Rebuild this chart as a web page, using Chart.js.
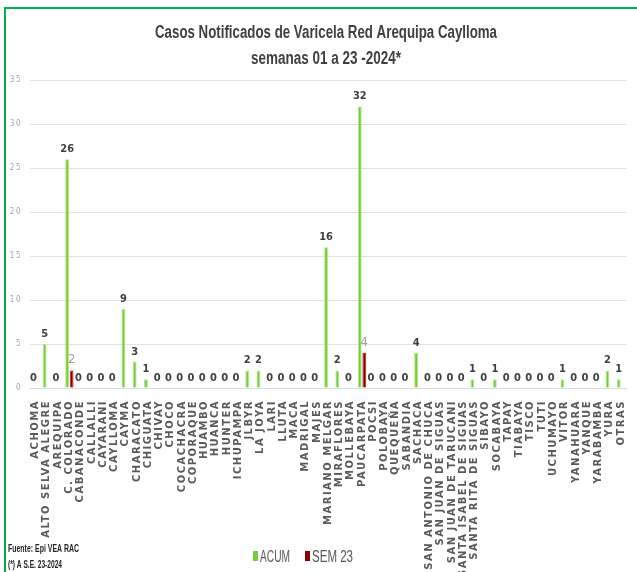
<!DOCTYPE html>
<html>
<head>
<meta charset="utf-8">
<title>Casos Notificados de Varicela</title>
<script src="https://cdn.jsdelivr.net/npm/chart.js@4/dist/chart.umd.min.js"></script>
<style>
  body { margin: 0; background: #fff; }
  #wrap { position: relative; width: 637px; height: 572px; }
</style>
</head>
<body>
<div id="wrap"><canvas id="myChart" width="637" height="572"></canvas></div>
<script>
// districts of Red Arequipa Caylloma
var distritos = ['ACHOMA', 'ALTO SELVA ALEGRE', 'AREQUIPA', 'C. COLORADO', 'CABANACONDE', 'CALLALLI',
  'CAYARANI', 'CAYLLOMA', 'CAYMA', 'CHARACATO', 'CHIGUATA', 'CHIVAY', 'CHOCO', 'COCACHACRA',
  'COPORAQUE', 'HUAMBO', 'HUANCA', 'HUNTER', 'ICHUPAMPA', 'JLBYR', 'LA JOYA', 'LARI', 'LLUTA',
  'MACA', 'MADRIGAL', 'MAJES', 'MARIANO MELGAR', 'MIRAFLORES', 'MOLLEBAYA', 'PAUCARPATA', 'POCSI',
  'POLOBAYA', 'QUEQUEÑA', 'SABANDIA', 'SACHACA', 'SAN ANTONIO DE CHUCA', 'SAN JUAN DE SIGUAS',
  'SAN JUAN DE TARUCANI', 'SANTA ISABEL DE SIGUAS', 'SANTA RITA DE SIGUAS', 'SIBAYO', 'SOCABAYA',
  'TAPAY', 'TIABAYA', 'TISCO', 'TUTI', 'UCHUMAYO', 'VITOR', 'YANAHUARA', 'YANQUE', 'YARABAMBA',
  'YURA', 'OTRAS'];

// accumulated cases, weeks 01-23
var acum = [0, 5, 0, 26, 0, 0, 0, 0, 9, 3, 1, 0, 0, 0, 0, 0, 0, 0, 0, 2, 2, 0, 0, 0, 0, 0, 16, 2, 0,
  32, 0, 0, 0, 0, 4, 0, 0, 0, 0, 1, 0, 1, 0, 0, 0, 0, 0, 1, 0, 0, 0, 2, 1];

// cases in week 23
var sem23 = [0, 0, 0, 2, 0, 0, 0, 0, 0, 0, 0, 0, 0, 0, 0, 0, 0, 0, 0, 0, 0, 0, 0, 0, 0, 0, 0, 0, 0,
  4, 0, 0, 0, 0, 0, 0, 0, 0, 0, 0, 0, 0, 0, 0, 0, 0, 0, 0, 0, 0, 0, 0, 0];

var yTicks = [0, 5, 10, 15, 20, 25, 30, 35];

var titulo = ['Casos Notificados de Varicela Red Arequipa Caylloma', 'semanas 01 a 23 -2024*'];
var fuente = ['Fuente: Epi VEA RAC', '(*) A S.E. 23-2024'];

var narrow = '"DejaVu Sans Condensed", sans-serif';

// draws text squeezed horizontally to a given width (narrow look)
function drawNarrow(ctx, text, x, y, font, w, align) {
  ctx.save();
  ctx.font = font;
  var sx = w / ctx.measureText(text).width;
  ctx.translate(x, y);
  ctx.scale(sx, 1);
  ctx.textAlign = align;
  ctx.fillText(text, 0, 0);
  ctx.restore();
}

// spaced-out lettering for the district names
var spacing = {
  id: 'spacing',
  beforeDraw: function(chart) { chart.ctx.letterSpacing = '1.5px'; },
  beforeDatasetsDraw: function(chart) { chart.ctx.letterSpacing = '0px'; }
};

// value labels over the bars
var valueLabels = {
  id: 'valueLabels',
  afterDatasetsDraw: function(chart) {
    var ctx = chart.ctx;
    ctx.save();
    ctx.textAlign = 'center';
    ctx.textBaseline = 'alphabetic';
    chart.getDatasetMeta(0).data.forEach(function(bar, i) {
      ctx.font = 'bold 11px ' + narrow;
      ctx.fillStyle = '#404040';
      ctx.fillText(acum[i], bar.x, bar.y - 7);
    });
    chart.getDatasetMeta(1).data.forEach(function(bar, i) {
      if (!sem23[i]) return;
      ctx.font = '13px ' + narrow;
      ctx.fillStyle = '#a0a0a0';
      ctx.fillText(sem23[i], bar.x, bar.y - 7);
    });
    ctx.restore();
  }
};

// title, legend, source note and frame
var extras = {
  id: 'extras',
  afterDraw: function(chart) {
    var ctx = chart.ctx;
    ctx.save();
    ctx.letterSpacing = '0px';
    ctx.textBaseline = 'alphabetic';
    // title
    ctx.fillStyle = '#404040';
    drawNarrow(ctx, titulo[0], 326, 38, 'bold 18px "Liberation Sans", sans-serif', 342, 'center');
    drawNarrow(ctx, titulo[1], 326, 64, 'bold 18px "Liberation Sans", sans-serif', 150, 'center');
    // legend
    var boxX = [253, 305], txtW = [30, 41];
    chart.data.datasets.forEach(function(ds, i) {
      ctx.fillStyle = ds.backgroundColor;
      ctx.fillRect(boxX[i], 551, 5, 10);
      ctx.fillStyle = '#595959';
      drawNarrow(ctx, ds.label, boxX[i] + 7, 562, '16px "Liberation Sans", sans-serif', txtW[i], 'left');
    });
    // source
    ctx.fillStyle = '#262626';
    drawNarrow(ctx, fuente[0], 8, 552, 'bold 11px "Liberation Sans", sans-serif', 71, 'left');
    drawNarrow(ctx, fuente[1], 8, 568, 'bold 11px "Liberation Sans", sans-serif', 54, 'left');
    // frame
    ctx.strokeStyle = '#00b050';
    ctx.lineWidth = 2;
    ctx.beginPath();
    ctx.moveTo(5, 572);
    ctx.lineTo(5, 8);
    ctx.lineTo(637, 8);
    ctx.stroke();
    ctx.restore();
  }
};

var ctx = document.getElementById('myChart').getContext('2d');
var chart = new Chart(ctx, {
  type: 'bar',
  data: {
    labels: distritos,
    datasets: [{
      label: 'ACUM',
      data: acum,
      backgroundColor: '#74cb3c',
      borderColor: '#b5e883',
      borderWidth: 1,
      categoryPercentage: 0.8,
      barPercentage: 0.85
    }, {
      label: 'SEM 23',
      data: sem23,
      backgroundColor: '#8b0000',
      borderColor: '#c01818',
      borderWidth: 1,
      categoryPercentage: 0.8,
      barPercentage: 0.85
    }]
  },
  options: {
    responsive: false,
    animation: false,
    layout: { padding: { left: 0, right: 5, top: 80, bottom: 0 } },
    plugins: {
      legend: { display: false },
      tooltip: { enabled: false },
      title: { display: false }
    },
    scales: {
      x: {
        grid: { display: false },
        border: { color: '#d9d9d9' },
        ticks: {
          autoSkip: false,
          minRotation: 90,
          maxRotation: 90,
          padding: 4,
          color: '#595959',
          font: { family: '"DejaVu Sans", sans-serif', size: 10, weight: 'bold' }
        },
        afterFit: function(scale) { scale.height = 184; }
      },
      y: {
        min: 0,
        max: 35,
        afterBuildTicks: function(scale) {
          scale.ticks = yTicks.map(function(v) { return { value: v }; });
        },
        grid: { color: '#e3e3e3', drawTicks: false },
        border: { display: false },
        ticks: {
          padding: 8,
          color: '#a6a6a6',
          font: { family: narrow, size: 8 }
        },
        afterFit: function(scale) { scale.width = 30; }
      }
    }
  },
  plugins: [spacing, valueLabels, extras]
});
</script>
</body>
</html>
